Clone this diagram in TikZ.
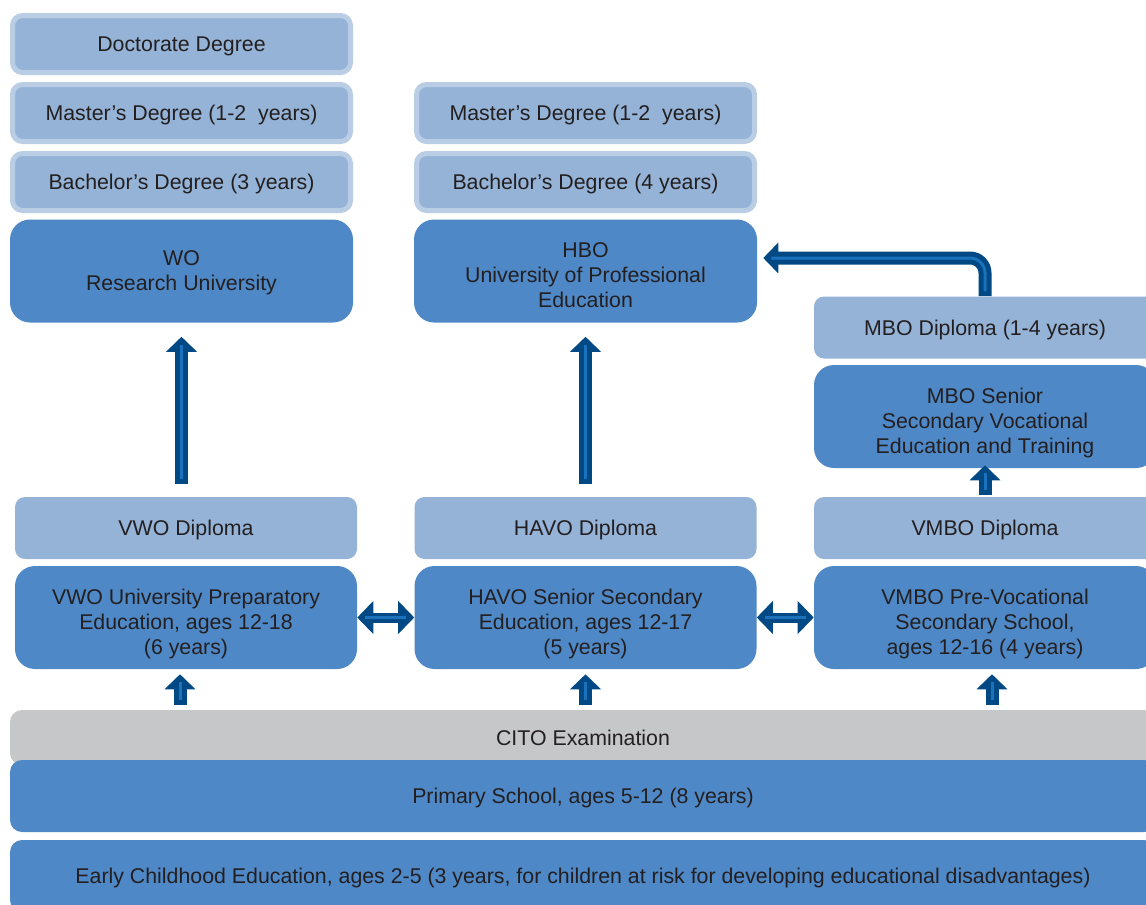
\documentclass[tikz,border=0pt]{standalone}
\usepackage{fontspec}
\setmainfont{Liberation Sans}
\usetikzlibrary{arrows.meta}
\definecolor{lightbox}{RGB}{149,179,215}
\definecolor{lightrim}{RGB}{185,205,229}
\definecolor{darkbox}{RGB}{79,136,198}
\definecolor{citogray}{RGB}{198,199,201}
\definecolor{arrownavy}{RGB}{1,73,133}
\definecolor{arrowstripe}{RGB}{27,113,186}
\definecolor{boxtext}{RGB}{35,31,32}

\begin{document}
\begin{tikzpicture}[x=0.75pt,y=-0.75pt,
  every node/.style={text=boxtext,font=\fontsize{16pt}{18.75pt}\selectfont,align=center,inner sep=0pt,text depth=0pt},
  degree/.style={fill=lightbox,draw=lightrim,line width=3.75pt,rounded corners=7.5pt,minimum width=253.5pt,minimum height=42.75pt},
  diploma/.style={fill=lightbox,rounded corners=7.5pt,minimum width=256.5pt,minimum height=46.5pt},
  school/.style={fill=darkbox,rounded corners=15pt,minimum width=256.5pt,minimum height=77.25pt},
  threeline/.style={text height=55pt},
  band/.style={fill=darkbox,rounded corners=9pt,minimum width=859.5pt,minimum height=54pt},
  pathway/.style 2 args={arrownavy,line width=9.75pt,-{Triangle[width=22.5pt,length=11.25pt]},
    shorten <=#1,shorten >=#2,
    postaction={draw=arrowstripe,line width=2.25pt,-,shorten <=#1+3.75pt,shorten >=#2+6pt}},
  twoway/.style={arrownavy,line width=7.5pt,{Triangle[width=24pt,length=12pt]}-{Triangle[width=24pt,length=12pt]},
    postaction={draw=arrowstripe,line width=2.25pt,-,shorten <=6pt,shorten >=6pt}}]
\useasboundingbox (0,0) rectangle (1146,904);
\clip (0,0) rectangle (1146,904);

% university side
\node[degree] (wophd) at (181.5,44) {Doctorate Degree};
\node[degree] (woma) at (181.5,113) {Master’s Degree (1-2\ \ years)};
\node[degree] (woba) at (181.5,182) {Bachelor’s Degree (3 years)};
\node[school,minimum width=257.25pt] (wo) at (181.5,271) {WO\\Research University};
\node[degree] (hboma) at (585.5,113) {Master’s Degree (1-2\ \ years)};
\node[degree] (hboba) at (585.5,182) {Bachelor’s Degree (4 years)};
\node[school,threeline,minimum width=257.25pt] (hbo) at (585.5,271) {HBO\\University of Professional\\Education};
\node[diploma] (mbodip) at (985,327.5) {MBO Diploma (1-4 years)};
\node[school,threeline] (mbo) at (985,416.5) {MBO Senior\\Secondary Vocational\\Education and Training};

% secondary schools
\node[diploma] (vwodip) at (186,528) {VWO Diploma};
\node[diploma] (havodip) at (585.5,528) {HAVO Diploma};
\node[diploma] (vmbodip) at (985,528) {VMBO Diploma};
\node[school,threeline] (vwo) at (186,617.5) {VWO University Preparatory\\Education, ages 12-18\\(6 years)};
\node[school,threeline] (havo) at (585.5,617.5) {HAVO Senior Secondary\\Education, ages 12-17\\(5 years)};
\node[school,threeline] (vmbo) at (985,617.5) {VMBO Pre-Vocational\\Secondary School,\\ages 12-16 (4 years)};

% base
\node[band,fill=citogray,minimum height=41.25pt] (cito) at (583,737.5) {CITO Examination};
\node[band] (primary) at (583,796) {Primary School, ages 5-12 (8 years)};
\node[band] (early) at (583,876) {Early Childhood Education, ages 2-5 (3 years, for children at risk for developing educational disadvantages)};

\coordinate (vwofoot) at ([xshift=-4.5pt]vwo.south);
\coordinate (vmbofoot) at ([xshift=5.25pt]vmbo.south);

% arrows
\draw[pathway={9.75pt}{10.5pt}] (vwodip.north -| wo.south) -- (wo.south);
\draw[pathway={9.75pt}{10.5pt}] (havodip.north -| hbo.south) -- (hbo.south);
\draw[pathway={1.5pt}{-2.25pt}] (vmbodip.north -| mbo.south) -- (mbo.south);
\draw[pathway={0pt}{4.5pt},rounded corners=11.25pt] (mbodip.north) |- ([yshift=9.75pt]hbo.east);
\draw[pathway={3.75pt}{3.75pt}] (cito.north -| vwofoot) -- (vwofoot);
\draw[pathway={3.75pt}{3.75pt}] (cito.north -| havo.south) -- (havo.south);
\draw[pathway={3.75pt}{3.75pt}] (cito.north -| vmbofoot) -- (vmbofoot);
\draw[twoway] (vwo.east) -- (havo.west);
\draw[twoway] (havo.east) -- (vmbo.west);
\end{tikzpicture}
\end{document}
